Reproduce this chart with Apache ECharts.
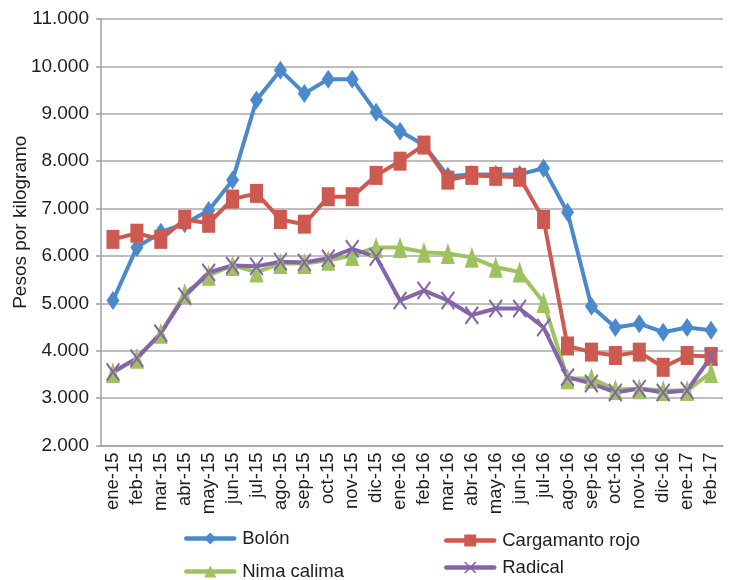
<!DOCTYPE html>
<html>
<head>
<meta charset="utf-8">
<script src="https://cdn.jsdelivr.net/npm/echarts@6/dist/echarts.min.js"></script>
<style>html,body{margin:0;padding:0;background:#fff}#c{width:731px;height:580px}</style>
</head>
<body>
<div id="c"></div>
<script>
const categories = ['ene-15','feb-15','mar-15','abr-15','may-15','jun-15','jul-15','ago-15','sep-15','oct-15','nov-15','dic-15',
  'ene-16','feb-16','mar-16','abr-16','may-16','jun-16','jul-16','ago-16','sep-16','oct-16','nov-16','dic-16','ene-17','feb-17'];
const bolon = [5060,6180,6500,6680,6960,7600,9290,9920,9430,9730,9730,9030,8630,8340,7680,7720,7720,7720,7850,6920,4940,4490,4570,4390,4490,4430];
const cargamanto = [6350,6480,6350,6770,6690,7200,7320,6770,6670,7250,7250,7700,8000,8340,7600,7700,7680,7660,6770,4100,3970,3900,3970,3650,3900,3880];
const nima = [3540,3840,4370,5210,5590,5800,5660,5840,5840,5910,6010,6180,6180,6080,6050,5970,5760,5660,5020,3410,3420,3180,3200,3160,3160,3540];
const radical = [3550,3840,4370,5150,5650,5800,5780,5880,5860,5950,6150,5980,5060,5270,5060,4750,4890,4890,4490,3440,3310,3120,3200,3120,3160,3870];
const yTicks = [2000,3000,4000,5000,6000,7000,8000,9000,10000,11000];

const names = ['Bolón','Cargamanto rojo','Nima calima','Radical'];
const colors = ['#4a89cb','#cd5a50','#9ec25f','#8465aa'];
const xPath = 'path://M0,0.9L0.9,0L5,4.1L9.1,0L10,0.9L5.9,5L10,9.1L9.1,10L5,5.9L0.9,10L0,9.1L4.1,5Z';
const symbols = ['diamond','rect','triangle',xPath];
const sizes = [[13,19],[13,19],[14,21],[14,19]];
const datas = [bolon,cargamanto,nima,radical];

const chart = echarts.init(document.getElementById('c'), null, {renderer:'canvas'});
const font = 'Liberation Sans, Arial, sans-serif';
const txt = '#1e1e1e';

const legendPos = [[184,529],[444,531],[184,562],[444,558]];
const legends = names.map((n,i)=>({
  data:[n], left:legendPos[i][0], top:legendPos[i][1], itemWidth:48, itemHeight:15, padding:0,
  lineStyle:{width:4.5,cap:'round'},
  textStyle:{fontFamily:font,fontSize:18.5,color:txt,padding:[0,0,0,3]}
}));

chart.setOption({
  animation:false,
  color:colors,
  grid:{left:101,right:8,top:19,bottom:134.5,containLabel:false,outerBoundsMode:'none'},
  legend:legends,
  xAxis:{
    type:'category', data:categories, boundaryGap:true,
    axisLine:{lineStyle:{color:'#a0a0a0',width:1.5}},
    axisTick:{show:false},
    axisLabel:{rotate:90,margin:7,fontFamily:font,fontSize:18.5,color:txt,interval:0}
  },
  yAxis:{
    type:'value', min:2000, max:11000, interval:1000,
    name:'Pesos por kilogramo', nameLocation:'middle', nameGap:71, nameRotate:90,
    nameMoveOverlap:false,
    nameTextStyle:{fontFamily:font,fontSize:19,color:txt,padding:[0,0,0,20]},
    axisLine:{show:true,lineStyle:{color:'#a0a0a0',width:1.5}},
    axisTick:{show:true,inside:false,length:5,lineStyle:{color:'#a0a0a0',width:1.5}},
    splitLine:{show:true,lineStyle:{color:'#a8a8a8',width:1.5}},
    axisLabel:{margin:12,fontFamily:font,fontSize:19,color:txt,
      formatter:v=>(v/1000).toFixed(3)}
  },
  series:names.map((n,i)=>({
    name:n, type:'line', data:datas[i],
    symbol:symbols[i], symbolSize:sizes[i], symbolKeepAspect:false, showAllSymbol:true,
    lineStyle:{width:4,color:colors[i],cap:'round',join:'round'},
    itemStyle:{color:colors[i]},
    emphasis:{disabled:true}
  }))
});
</script>
</body>
</html>
